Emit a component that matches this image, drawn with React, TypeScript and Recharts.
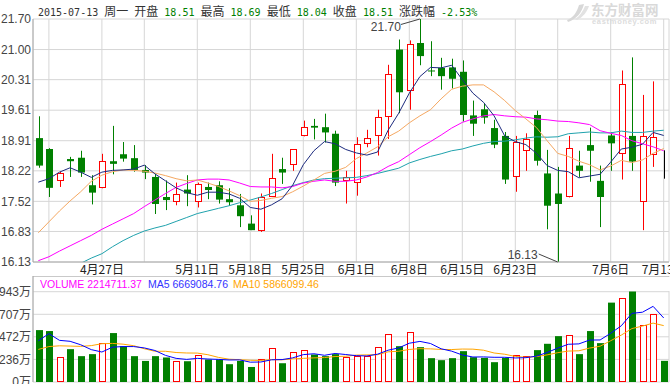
import React from "react";
import {
  ComposedChart,
  Bar,
  Line,
  XAxis,
  YAxis,
  CartesianGrid,
  ReferenceDot,
  ReferenceLine,
} from "recharts";

// trading days shown (2015)
const dates = [
  "2015-04-17", "2015-04-20", "2015-04-21", "2015-04-22", "2015-04-23", "2015-04-24",
  "2015-04-27", "2015-04-28", "2015-04-29", "2015-04-30", "2015-05-04", "2015-05-05",
  "2015-05-06", "2015-05-07", "2015-05-08", "2015-05-11", "2015-05-12", "2015-05-13",
  "2015-05-14", "2015-05-15", "2015-05-18", "2015-05-19", "2015-05-20", "2015-05-21",
  "2015-05-22", "2015-05-25", "2015-05-26", "2015-05-27", "2015-05-28", "2015-05-29",
  "2015-06-01", "2015-06-02", "2015-06-03", "2015-06-04", "2015-06-05", "2015-06-08",
  "2015-06-09", "2015-06-10", "2015-06-11", "2015-06-12", "2015-06-15", "2015-06-16",
  "2015-06-17", "2015-06-18", "2015-06-19", "2015-06-23", "2015-06-24", "2015-06-25",
  "2015-06-26", "2015-06-29", "2015-06-30", "2015-07-01", "2015-07-02", "2015-07-03",
  "2015-07-06", "2015-07-07", "2015-07-08", "2015-07-09", "2015-07-10", "2015-07-13",
];

const opens = [
  18.97, 18.72, 17.98, 18.49, 18.52, 17.89, 17.82, 18.44, 18.6, 18.51,
  18.24, 18.08, 17.62, 17.51, 17.79, 17.51, 17.85, 17.89, 17.57, 17.43,
  17.01, 16.84, 17.63, 18.26, 18.35, 19.01, 19.25, 19.22, 19.07, 17.99,
  17.93, 18.83, 19.01, 19.45, 21.0, 20.04, 21.15, 20.52, 20.58, 20.59,
  20.49, 19.49, 19.63, 19.2, 19.02, 18.07, 18.67, 19.5, 18.16, 17.7,
  17.61, 18.34, 18.81, 17.99, 19.03, 18.6, 19.02, 17.51, 18.58, 18.51,
];
const highs = [
  19.47, 18.74, 18.2, 18.54, 18.68, 18.12, 18.61, 19.25, 18.88, 18.81,
  18.35, 18.15, 18.0, 17.95, 18.12, 17.95, 17.95, 17.98, 17.82, 17.69,
  17.2, 17.7, 18.61, 18.52, 18.72, 19.37, 19.41, 19.53, 19.14, 18.22,
  18.99, 19.16, 19.62, 20.65, 21.23, 21.21, 21.7, 21.19, 20.81, 20.79,
  20.75, 19.83, 19.77, 19.39, 19.11, 19.02, 19.08, 19.6, 18.7, 18.31,
  19.02, 18.68, 19.21, 18.34, 19.1, 20.52, 20.82, 19.96, 20.27, 18.69,
];
const lows = [
  18.29, 17.62, 17.85, 18.08, 18.08, 17.45, 17.82, 18.14, 18.43, 18.2,
  18.03, 17.23, 17.32, 17.43, 17.41, 17.38, 17.57, 17.47, 17.42, 16.93,
  16.86, 16.82, 17.63, 17.92, 18.22, 19.01, 18.94, 18.87, 17.87, 17.47,
  17.65, 18.76, 18.57, 18.95, 19.54, 19.62, 20.64, 20.39, 20.08, 20.11,
  19.35, 19.02, 19.3, 18.74, 17.92, 17.74, 18.22, 18.34, 16.88, 16.13,
  17.61, 18.08, 17.97, 16.93, 18.22, 18.02, 18.22, 16.86, 18.31, 18.04,
];
const closes = [
  18.34, 17.83, 18.18, 18.44, 18.18, 17.72, 18.44, 18.38, 18.5, 18.24,
  18.18, 17.46, 17.55, 17.7, 17.7, 17.91, 17.78, 17.56, 17.5, 17.18,
  16.86, 17.62, 18.05, 18.18, 18.72, 19.22, 19.21, 19.1, 17.95, 18.07,
  18.83, 18.97, 19.45, 20.45, 20.02, 21.13, 20.85, 20.5, 20.39, 20.33,
  19.5, 19.3, 19.44, 18.82, 18.02, 18.87, 18.94, 18.45, 17.42, 17.46,
  18.74, 18.22, 18.68, 17.62, 18.85, 20.22, 18.43, 19.02, 18.99, 18.51,
];

// moving averages as drawn on the price panel
const ma5 = [
  17.96, 18.04, 18.19, 18.29, 18.19, 18.07, 18.19, 18.23, 18.24, 18.26,
  18.35, 18.15, 17.99, 17.83, 17.72, 17.66, 17.73, 17.73, 17.69, 17.59,
  17.38, 17.34, 17.44, 17.58, 17.89, 18.36, 18.68, 18.89, 18.84, 18.71,
  18.63, 18.58, 18.65, 19.15, 19.54, 20.0, 20.38, 20.59, 20.58, 20.64,
  20.31, 20.0, 19.79, 19.48, 19.02, 18.89, 18.82, 18.62, 18.34, 18.23,
  18.2, 18.06, 18.1, 18.14, 18.42, 18.72, 18.76, 18.83, 19.1, 19.03,
];
const ma10 = [
  16.8, 17.05, 17.3, 17.53, 17.74, 17.98, 18.12, 18.2, 18.24, 18.23,
  18.21, 18.17, 18.11, 18.04, 17.99, 18.01, 17.94, 17.86, 17.76, 17.65,
  17.52, 17.54, 17.59, 17.63, 17.74, 17.87, 18.01, 18.16, 18.21, 18.3,
  18.5, 18.63, 18.77, 19.0, 19.13, 19.32, 19.48, 19.62, 19.87, 20.09,
  20.16, 20.19, 20.19, 20.03, 19.83, 19.6, 19.41, 19.21, 18.91, 18.62,
  18.55, 18.44, 18.36, 18.24, 18.33, 18.46, 18.41, 18.47, 18.62, 18.73,
];
const ma20 = [
  16.16, 16.25, 16.38, 16.5, 16.62, 16.74, 16.88, 17.0, 17.12, 17.24,
  17.4, 17.55, 17.7, 17.84, 17.93, 18.01, 18.03, 18.03, 18.01, 17.94,
  17.86, 17.85, 17.85, 17.83, 17.86, 17.94, 17.98, 18.01, 17.98, 17.98,
  18.01, 18.08, 18.18, 18.32, 18.43, 18.59, 18.75, 18.89, 19.04, 19.2,
  19.33, 19.41, 19.48, 19.51, 19.48, 19.46, 19.45, 19.41, 19.39, 19.36,
  19.35, 19.32, 19.28, 19.14, 19.08, 19.03, 18.91, 18.84, 18.77, 18.68,
];
const ma30 = [
  15.7, 15.8, 15.9, 16.0, 16.1, 16.22, 16.32, 16.48, 16.62, 16.74,
  16.84, 16.91, 16.97, 17.06, 17.15, 17.24, 17.3, 17.36, 17.42, 17.49,
  17.55, 17.62, 17.7, 17.79, 17.88, 17.95, 18.01, 18.04, 18.05, 18.06,
  18.07, 18.11, 18.16, 18.22, 18.28, 18.4, 18.48, 18.55, 18.61, 18.68,
  18.72, 18.79, 18.85, 18.89, 18.9, 18.93, 18.97, 19.0, 18.99, 19.0,
  19.07, 19.09, 19.11, 19.09, 19.09, 19.13, 19.1, 19.1, 19.13, 19.15,
];

// volume in 万 (10k)
const volumes = [
  542, 532, 256, 343, 270, 291, 403, 511, 374, 270,
  220, 270, 256, 217, 217, 277, 235, 235, 186, 220,
  157, 245, 350, 196, 312, 329, 287, 270, 291, 256,
  273, 270, 361, 500, 374, 521, 364, 249, 228, 249,
  322, 259, 252, 207, 252, 287, 270, 333, 399, 479,
  487, 291, 532, 406, 829, 875, 945, 592, 710, 221,
];
const volMa5 = [
  430, 505, 435, 425, 389, 338, 313, 364, 370, 370,
  356, 329, 278, 247, 236, 247, 240, 236, 230, 231,
  207, 209, 232, 234, 252, 286, 295, 279, 298, 287,
  275, 272, 290, 332, 356, 405, 424, 402, 347, 322,
  282, 261, 262, 258, 258, 251, 254, 270, 308, 354,
  394, 398, 438, 439, 509, 587, 717, 729, 790, 669,
];
const volMa10 = [
  340, 370, 378, 375, 372, 380, 400, 403, 395, 379,
  347, 321, 321, 308, 303, 302, 285, 257, 238, 233,
  227, 225, 234, 232, 241, 247, 252, 255, 266, 269,
  281, 283, 285, 315, 321, 340, 348, 346, 340, 339,
  344, 343, 332, 303, 290, 267, 258, 266, 283, 306,
  323, 326, 354, 374, 431, 490, 558, 584, 615, 589,
];

const gridTicks = [
  "2015-04-20", "2015-04-27", "2015-05-04", "2015-05-11", "2015-05-18", "2015-05-25",
  "2015-06-01", "2015-06-08", "2015-06-15", "2015-06-23", "2015-06-29", "2015-07-06",
  "2015-07-13",
];
const labelTicks = [
  "2015-04-27", "2015-05-11", "2015-05-18", "2015-05-25", "2015-06-01", "2015-06-08",
  "2015-06-15", "2015-06-23", "2015-07-06", "2015-07-13",
];
const priceTicks = [16.13, 16.83, 17.52, 18.22, 18.91, 19.61, 20.31, 21.0, 21.7];
const volTicks = [0, 236, 472, 707, 943];

const RED = "#ff0000";
const GREEN = "#008000";
const GRID = "#d6d6d6";
const AXIS = "#a8a8a8";
const CJK = "'Noto Sans CJK SC', sans-serif";
const SANS = "'Liberation Sans', Arial, sans-serif";
const MONO = "'DejaVu Sans Mono', monospace";

const rows = dates.map((date, i) => ({
  date,
  open: opens[i],
  high: highs[i],
  low: lows[i],
  close: closes[i],
  range: [lows[i], highs[i]],
  ma5: ma5[i],
  ma10: ma10[i],
  ma20: ma20[i],
  ma30: ma30[i],
  vol: volumes[i],
  vma5: volMa5[i],
  vma10: volMa10[i],
}));

const highIdx = highs.indexOf(Math.max(...highs));
const lowIdx = lows.indexOf(Math.min(...lows));

function Candle(props: any) {
  const { x, y, width, height, payload } = props;
  const { open, close, high, low } = payload;
  const top = Math.min(y, y + height);
  const k = Math.abs(height) / (high - low);
  const py = (v: number) => top + (high - v) * k;
  const cx = Math.round(x + width / 2) + 0.5;
  const yHigh = py(high);
  const yLow = py(low);
  if (close === open) {
    return <line x1={cx} x2={cx} y1={yHigh} y2={yLow} stroke="#000" />;
  }
  const bTop = py(Math.max(open, close));
  const bBot = py(Math.min(open, close));
  if (close > open) {
    const t = Math.round(bTop) + 0.5;
    const b = Math.max(t + 1, Math.round(bBot) - 0.5);
    return (
      <g>
        <line x1={cx} x2={cx} y1={yHigh} y2={t} stroke={RED} />
        <line x1={cx} x2={cx} y1={b} y2={yLow} stroke={RED} />
        <rect x={cx - 3} y={t} width={6} height={b - t} fill="#fff" stroke={RED} />
      </g>
    );
  }
  return (
    <g>
      <line x1={cx} x2={cx} y1={yHigh} y2={yLow} stroke={GREEN} />
      <rect x={cx - 3.5} y={bTop} width={7} height={Math.max(1, bBot - bTop)} fill={GREEN} />
    </g>
  );
}

function VolumeBar(props: any) {
  const { x, y, width, height, payload } = props;
  const cx = Math.round(x + width / 2) + 0.5;
  if (payload.close > payload.open) {
    const t = Math.round(y) + 0.5;
    const b = Math.round(y + height) - 0.5;
    return <rect x={cx - 3} y={t} width={6} height={Math.max(0, b - t)} fill="#fff" stroke={RED} />;
  }
  return <rect x={cx - 3.5} y={y} width={7} height={height} fill={GREEN} />;
}

function DateTick(props: any) {
  const { x, y, payload } = props;
  if (!labelTicks.includes(payload.value)) return <g />;
  const [, m, d] = String(payload.value).split("-");
  return (
    <text x={x} y={y + 10} textAnchor="middle" fontSize={12} fontFamily={CJK} fill="#222">
      {`${Number(m)}月${Number(d)}日`}
    </text>
  );
}

function PeakMark(props: any) {
  const { cx, cy } = props;
  return (
    <g>
      <line x1={cx - 19} y1={cy + 5.5} x2={cx} y2={cy} stroke="#444" />
      <text x={cx - 19} y={cy + 12} textAnchor="end" fontSize={12} fontFamily={SANS} fill="#444">
        {highs[highIdx].toFixed(2)}
      </text>
    </g>
  );
}

function TroughMark(props: any) {
  const { cx, cy } = props;
  return (
    <g>
      <line x1={cx - 19} y1={cy - 8} x2={cx} y2={cy} stroke="#444" />
      <text x={cx - 20} y={cy - 3.5} textAnchor="end" fontSize={12} fontFamily={SANS} fill="#444">
        {lows[lowIdx].toFixed(2)}
      </text>
    </g>
  );
}

const last = rows.length - 1;
const pct = ((closes[last] / closes[last - 1] - 1) * 100).toFixed(2);

export default function App() {
  const tickStyle = { fontSize: 12, fontFamily: SANS, fill: "#444" };
  return (
    <div style={{ position: "absolute", left: 0, top: 0, width: 670, height: 384, background: "#fff", overflow: "hidden" }}>
      <div style={{ position: "absolute", left: 0, top: 0 }}>
        <ComposedChart width={670} height={276} data={rows} margin={{ top: 19, right: 1, bottom: 0, left: 0 }}>
          <CartesianGrid stroke={GRID} />
          <XAxis
            dataKey="date"
            ticks={gridTicks}
            interval={0}
            height={14}
            tick={<DateTick />}
            tickLine={false}
            tickSize={0}
            axisLine={{ stroke: AXIS }}
          />
          <YAxis
            width={33}
            domain={[16.13, 21.7]}
            ticks={priceTicks}
            interval={0}
            allowDataOverflow
            tickFormatter={(v: number) => v.toFixed(2)}
            tick={tickStyle}
            tickLine={false}
            tickSize={0}
            tickMargin={2}
            axisLine={{ stroke: AXIS }}
          />
          <Bar dataKey="range" barSize={7} shape={<Candle />} isAnimationActive={false} />
          <Line dataKey="ma30" stroke="#1fa2ad" dot={false} strokeWidth={1} isAnimationActive={false} />
          <Line dataKey="ma20" stroke="#ff00ff" dot={false} strokeWidth={1} isAnimationActive={false} />
          <Line dataKey="ma10" stroke="#f5a862" dot={false} strokeWidth={1} isAnimationActive={false} />
          <Line dataKey="ma5" stroke="#1c2a7e" dot={false} strokeWidth={1} isAnimationActive={false} />
          <ReferenceDot x={dates[highIdx]} y={highs[highIdx]} r={0} ifOverflow="visible" shape={<PeakMark />} />
          <ReferenceDot x={dates[lowIdx]} y={lows[lowIdx]} r={0} ifOverflow="visible" shape={<TroughMark />} />
        </ComposedChart>
      </div>

      <div style={{ position: "absolute", left: 0, top: 276 }}>
        <ComposedChart width={670} height={108} data={rows} margin={{ top: 0, right: 1, bottom: 0, left: 0 }}>
          <CartesianGrid stroke={GRID} />
          <XAxis dataKey="date" ticks={gridTicks} interval={0} height={2} tick={false} tickLine={false} axisLine={false} />
          <YAxis
            width={33}
            domain={[0, 1107]}
            ticks={volTicks}
            interval={0}
            tickFormatter={(v: number) => `${v}万`}
            tick={{ ...tickStyle, fontFamily: `'Liberation Sans', ${CJK}` }}
            tickLine={false}
            tickSize={0}
            tickMargin={2}
            axisLine={{ stroke: AXIS }}
          />
          <ReferenceLine y={1107} stroke={AXIS} />
          <Bar dataKey="vol" barSize={7} shape={<VolumeBar />} isAnimationActive={false} />
          <Line dataKey="vma10" stroke="#ffa500" dot={false} strokeWidth={1} isAnimationActive={false} />
          <Line dataKey="vma5" stroke="#0000ff" dot={false} strokeWidth={1} isAnimationActive={false} />
        </ComposedChart>
      </div>

      {/* volume legend strip */}
      <div
        style={{
          position: "absolute",
          left: 34,
          top: 277,
          width: 636,
          height: 14,
          background: "#fff",
          fontFamily: SANS,
          fontSize: 10.5,
          lineHeight: "15px",
          whiteSpace: "pre",
        }}
      >
        <span style={{ position: "absolute", left: 6, color: "#ff00ff" }}>VOLUME 2214711.37</span>
        <span style={{ position: "absolute", left: 114, color: "#3333ff" }}>MA5 6669084.76</span>
        <span style={{ position: "absolute", left: 199, color: "#ffa500" }}>MA10 5866099.46</span>
      </div>

      {/* header line */}
      <div
        style={{
          position: "absolute",
          left: 38,
          top: 3,
          whiteSpace: "pre",
          fontFamily: MONO,
          fontSize: 10,
          lineHeight: "16px",
          color: "#333",
        }}
      >
        <span>{dates[last]} </span>
        <span style={{ fontFamily: CJK, fontSize: 12 }}>周一</span>
        <span> </span>
        <span style={{ fontFamily: CJK, fontSize: 12 }}>开盘</span>
        <span style={{ color: GREEN }}> {opens[last].toFixed(2)} </span>
        <span style={{ fontFamily: CJK, fontSize: 12 }}>最高</span>
        <span style={{ color: GREEN }}> {highs[last].toFixed(2)} </span>
        <span style={{ fontFamily: CJK, fontSize: 12 }}>最低</span>
        <span style={{ color: GREEN }}> {lows[last].toFixed(2)} </span>
        <span style={{ fontFamily: CJK, fontSize: 12 }}>收盘</span>
        <span style={{ color: GREEN }}> {closes[last].toFixed(2)} </span>
        <span style={{ fontFamily: CJK, fontSize: 12 }}>涨跌幅</span>
        <span style={{ color: GREEN }}> {pct}%</span>
      </div>

      {/* watermark */}
      <svg style={{ position: "absolute", left: 563, top: 2 }} width={30} height={22}>
        <path d="M4 18 C10 16 14 10 16 3 L21 2 C19 10 14 17 5 20 Z" fill="#d8d8d8" />
        <path d="M12 17 C17 14 20 9 22 4 L26 4 C24 10 20 15 14 18 Z" fill="#e2e2e2" />
      </svg>
      <div
        style={{
          position: "absolute",
          left: 591,
          top: 2,
          fontFamily: CJK,
          fontSize: 13.5,
          fontWeight: 700,
          lineHeight: "15px",
          color: "#d9d9d9",
        }}
      >
        东方财富网
      </div>
      <div
        style={{
          position: "absolute",
          left: 592,
          top: 18,
          fontFamily: SANS,
          fontSize: 7.5,
          fontWeight: 700,
          lineHeight: "7px",
          letterSpacing: 0.7,
          color: "#dcdcdc",
        }}
      >
        eastmoney.com
      </div>
    </div>
  );
}
